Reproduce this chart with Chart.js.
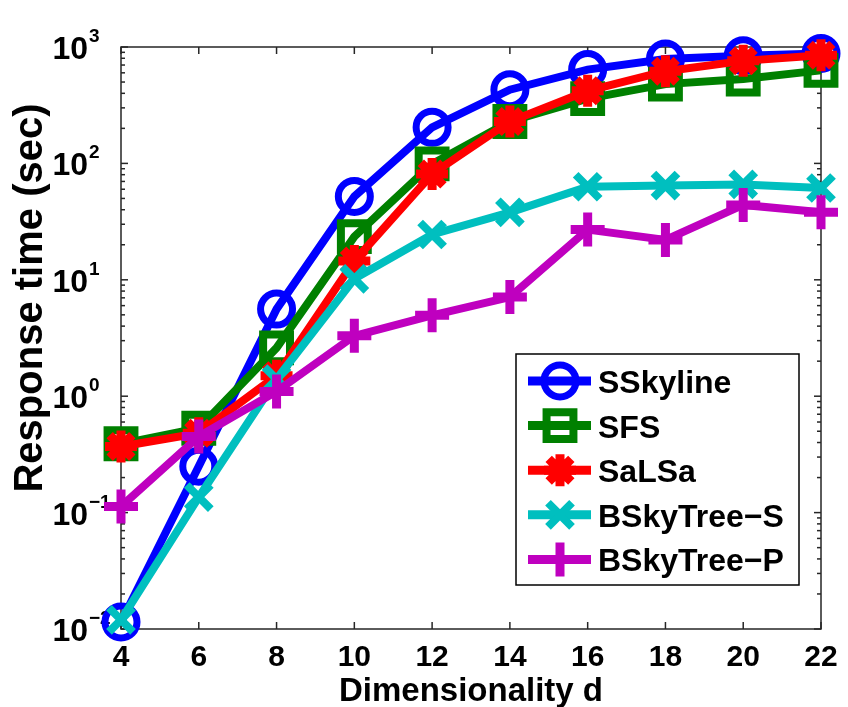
<!DOCTYPE html>
<html>
<head>
<meta charset="utf-8">
<script src="https://cdn.jsdelivr.net/npm/chart.js@4.4.0/dist/chart.umd.min.js"></script>
<style>
  html, body { margin: 0; padding: 0; background: #fff; }
  #chart { display: block; }
</style>
</head>
<body>
<canvas id="chart" width="848" height="707"></canvas>
<script>
// --- DATA ---
const dims = [4, 6, 8, 10, 12, 14, 16, 18, 20, 22];
const sskyline  = [0.0115, 0.25, 5.6, 52, 204, 430, 640, 790, 840, 880];
const sfs       = [0.39, 0.53, 2.6, 23.5, 99, 229, 360, 480, 530, 630];
const salsa     = [0.37, 0.48, 1.5, 14.5, 81, 229, 420, 620, 760, 850];
const bskytreeS = [0.012, 0.136, 1.4, 10.2, 24.5, 38, 63, 64.5, 66, 61.5];
const bskytreeP = [0.113, 0.45, 1.1, 3.3, 4.95, 7.1, 27, 22, 44, 38];

const X_TICKS = [4, 6, 8, 10, 12, 14, 16, 18, 20, 22];
const X_TICK_LABELS = ['4', '6', '8', '10', '12', '14', '16', '18', '20', '22'];
const Y_TICKS = [1000, 100, 10, 1, 0.1, 0.01];
const Y_TICK_EXP = ['3', '2', '1', '0', '\u22121', '\u22122'];

const X_TITLE = 'Dimensionality d';
const Y_TITLE = 'Response time (sec)';

// --- STILIUS ---
const FONT = '"Liberation Sans", Arial, Helvetica, sans-serif';
const AXIS_COLOR = '#262626';

const series = [
    { label: 'SSkyline',    data: sskyline,  color: '#0000ff', style: 'circle',   radius: 16, bw: 7 },
    { label: 'SFS',         data: sfs,       color: '#008000', style: 'rect',     radius: 19, bw: 8 },
    { label: 'SaLSa',       data: salsa,     color: '#ff0000', style: 'star',     radius: 16, bw: 9 },
    { label: 'BSkyTree\u2212S', data: bskytreeS, color: '#00bfbf', style: 'crossRot', radius: 17, bw: 8 },
    { label: 'BSkyTree\u2212P', data: bskytreeP, color: '#bf00bf', style: 'cross',    radius: 17, bw: 9 }
];

// --- AŠYS (MATLAB stilius) ---
const axesPlugin = {
    id: 'matlabAxes',
    beforeDatasetsDraw(chart) {
        const { ctx, chartArea: a, scales: { x, y } } = chart;
        ctx.save();
        ctx.strokeStyle = AXIS_COLOR;
        ctx.lineWidth = 1.5;
        ctx.strokeRect(a.left, a.top, a.right - a.left, a.bottom - a.top);

        const seg = (x1, y1, x2, y2) => {
            ctx.beginPath(); ctx.moveTo(x1, y1); ctx.lineTo(x2, y2); ctx.stroke();
        };

        // x ticks (apačioj ir viršuj)
        X_TICKS.forEach(v => {
            const px = x.getPixelForValue(v);
            seg(px, a.bottom, px, a.bottom - 7);
            seg(px, a.top, px, a.top + 7);
        });

        // y ticks - major ir minor
        Y_TICKS.forEach((v, i) => {
            const py = y.getPixelForValue(v);
            seg(a.left, py, a.left + 7, py);
            seg(a.right, py, a.right - 7, py);
            if (i < Y_TICKS.length - 1) {
                const base = Y_TICKS[i + 1];
                for (let m = 2; m <= 9; m++) {
                    const my = y.getPixelForValue(base * m);
                    seg(a.left, my, a.left + 4, my);
                    seg(a.right, my, a.right - 4, my);
                }
            }
        });

        // tick labels
        ctx.fillStyle = '#000';
        ctx.textBaseline = 'alphabetic';
        ctx.font = 'bold 30px ' + FONT;
        ctx.textAlign = 'center';
        X_TICKS.forEach((v, i) => {
            ctx.fillText(X_TICK_LABELS[i], x.getPixelForValue(v), 666);
        });

        Y_TICKS.forEach((v, i) => {
            const py = y.getPixelForValue(v);
            ctx.font = 'bold 32px ' + FONT;
            ctx.textAlign = 'right';
            ctx.fillText('10', 88, py + 12);
            ctx.font = 'bold 19px ' + FONT;
            ctx.textAlign = 'left';
            ctx.fillText(Y_TICK_EXP[i], 89, py - 5);
        });

        // ašių pavadinimai
        ctx.font = 'bold 33px ' + FONT;
        ctx.textAlign = 'center';
        ctx.fillText(X_TITLE, (a.left + a.right) / 2, 701);

        ctx.save();
        ctx.translate(42, 298);
        ctx.rotate(-Math.PI / 2);
        ctx.font = 'bold 40px ' + FONT;
        ctx.fillText(Y_TITLE, 0, 0);
        ctx.restore();

        ctx.restore();
    }
};

// --- LEGENDA ---
const legendPlugin = {
    id: 'matlabLegend',
    afterDatasetsDraw(chart) {
        const ctx = chart.ctx;
        const box = { x: 516, y: 354, w: 283, h: 231 };
        ctx.save();
        ctx.fillStyle = '#fff';
        ctx.fillRect(box.x, box.y, box.w, box.h);
        ctx.strokeStyle = '#000';
        ctx.lineWidth = 1.5;
        ctx.strokeRect(box.x, box.y, box.w, box.h);

        series.forEach((s, i) => {
            const cy = 381 + i * 44.6;
            ctx.strokeStyle = s.color;
            ctx.lineWidth = 9;
            ctx.beginPath(); ctx.moveTo(528, cy); ctx.lineTo(591, cy); ctx.stroke();
            ctx.lineWidth = s.bw;
            ctx.fillStyle = 'rgba(0,0,0,0)';
            Chart.helpers.drawPoint(ctx, { pointStyle: s.style, radius: s.radius, borderWidth: s.bw, rotation: 0 }, 560, cy);

            ctx.fillStyle = '#000';
            ctx.font = 'bold 32px ' + FONT;
            ctx.textAlign = 'left';
            ctx.textBaseline = 'alphabetic';
            ctx.fillText(s.label, 598, cy + 12);
        });
        ctx.restore();
    }
};

// --- DIAGRAMA ---
const datasets = series.map((s, i) => ({
    label: s.label,
    data: s.data,
    borderColor: s.color,
    backgroundColor: s.color,
    borderWidth: 8,
    pointStyle: s.style,
    pointRadius: s.radius,
    pointHoverRadius: s.radius,
    pointBorderWidth: s.bw,
    pointBackgroundColor: 'rgba(0,0,0,0)',
    pointBorderColor: s.color,
    tension: 0,
    clip: false,
    order: series.length - i // vėlesnė serija piešiama viršuje
}));

new Chart(document.getElementById('chart'), {
    type: 'line',
    data: { labels: dims, datasets },
    options: {
        responsive: false,
        animation: false,
        layout: { padding: { left: 121, right: 20, top: 47, bottom: 78 } },
        scales: {
            x: { type: 'linear', min: 4, max: 22, display: false },
            y: { type: 'logarithmic', min: 0.01, max: 1000, display: false }
        },
        plugins: {
            legend: { display: false },
            tooltip: { enabled: false }
        },
        events: []
    },
    plugins: [axesPlugin, legendPlugin]
});
</script>
</body>
</html>
